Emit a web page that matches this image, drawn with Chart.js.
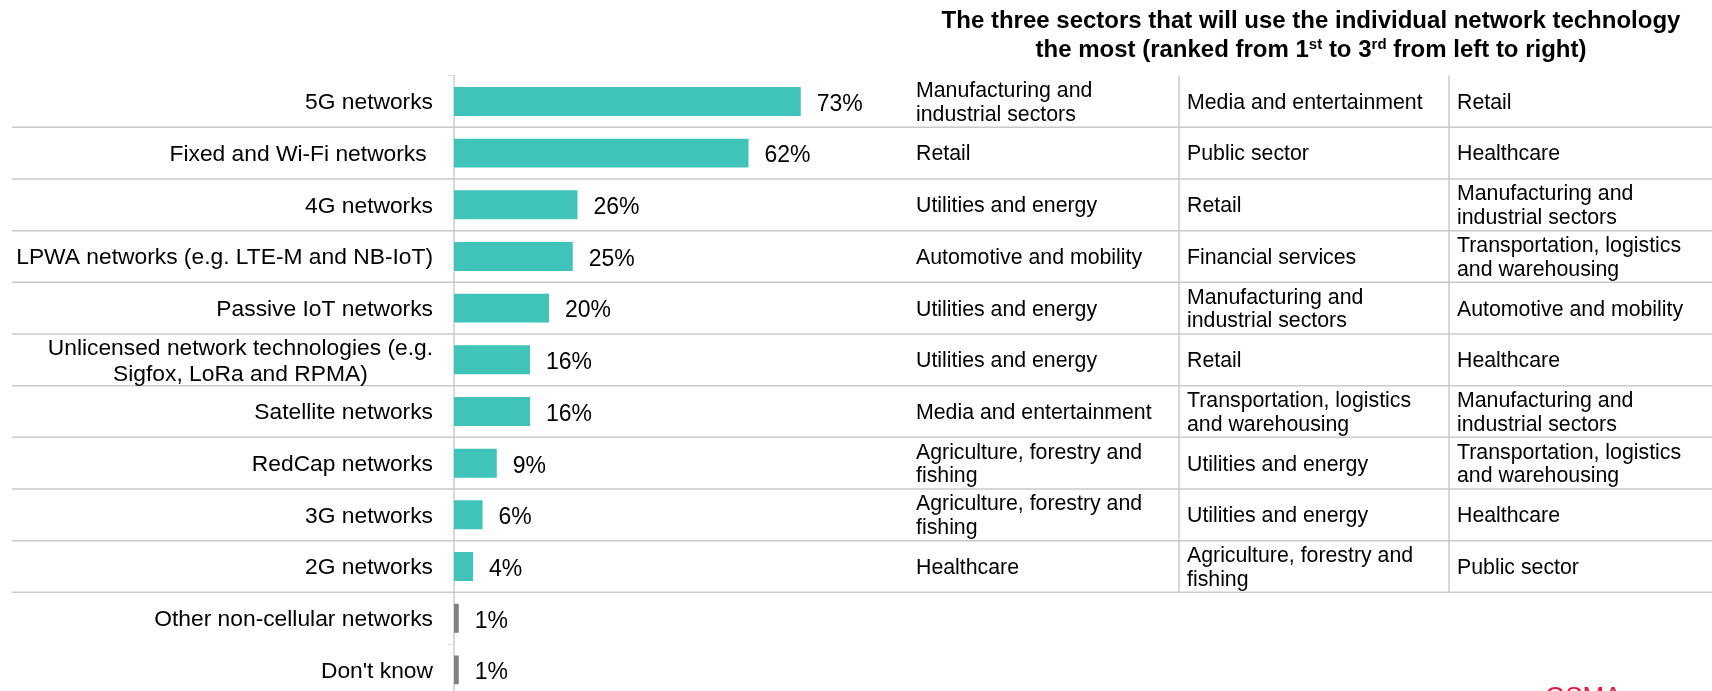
<!DOCTYPE html>
<html>
<head>
<meta charset="utf-8">
<title>Network technologies by sector</title>
<script src="https://cdn.jsdelivr.net/npm/chart.js@4.4.1/dist/chart.umd.min.js"></script>
<style>
  html, body { margin: 0; padding: 0; background: #fff; overflow: hidden; }
  canvas { display: block; }
</style>
</head>
<body>
<canvas id="myChart" width="1712" height="700"></canvas>
<script>
// network technologies, top to bottom
const categories = [
	'5G networks',
	'Fixed and Wi-Fi networks ',
	'4G networks',
	'LPWA networks (e.g. LTE-M and NB-IoT)',
	'Passive IoT networks',
	['Unlicensed network technologies (e.g.', 'Sigfox, LoRa and RPMA)'],
	'Satellite networks',
	'RedCap networks',
	'3G networks',
	'2G networks',
	'Other non-cellular networks',
	"Don't know"
];
// % of respondents
const shares = [73, 62, 26, 25, 20, 16, 16, 9, 6, 4, 1, 1];

// top three sectors per technology (only the first ten rows have them)
const firstSector = [
	'Manufacturing and\nindustrial sectors',
	'Retail',
	'Utilities and energy',
	'Automotive and mobility',
	'Utilities and energy',
	'Utilities and energy',
	'Media and entertainment',
	'Agriculture, forestry and\nfishing',
	'Agriculture, forestry and\nfishing',
	'Healthcare'
];
const secondSector = [
	'Media and entertainment',
	'Public sector',
	'Retail',
	'Financial services',
	'Manufacturing and\nindustrial sectors',
	'Retail',
	'Transportation, logistics\nand warehousing',
	'Utilities and energy',
	'Utilities and energy',
	'Agriculture, forestry and\nfishing'
];
const thirdSector = [
	'Retail',
	'Healthcare',
	'Manufacturing and\nindustrial sectors',
	'Transportation, logistics\nand warehousing',
	'Automotive and mobility',
	'Healthcare',
	'Manufacturing and\nindustrial sectors',
	'Transportation, logistics\nand warehousing',
	'Healthcare',
	'Public sector'
];

// title, second line has superscripts
const titleLine1 = [{ text: 'The three sectors that will use the individual network technology' }];
const titleLine2 = [
	{ text: 'the most (ranked from 1' },
	{ text: 'st', sup: true },
	{ text: ' to 3' },
	{ text: 'rd', sup: true },
	{ text: ' from left to right)' }
];

const FONT = "'Liberation Sans', Arial, Helvetica, sans-serif";
const TEAL = '#40c4b9';
const GREY = '#808080';
const LINE = '#cacaca';

//draws a line of text made of normal and superscript pieces, centred on cx
function drawRich(ctx, parts, cx, y) {
	const big = 'bold 24px ' + FONT;
	const small = 'bold 15px ' + FONT;
	let total = 0;
	parts.forEach(p => {
		ctx.font = p.sup ? small : big;
		p.w = ctx.measureText(p.text).width;
		total += p.w;
	});
	let x = cx - total / 2;
	ctx.textAlign = 'left';
	ctx.textBaseline = 'alphabetic';
	parts.forEach(p => {
		ctx.font = p.sup ? small : big;
		ctx.fillText(p.text, x, p.sup ? y - 8 : y);
		x += p.w;
	});
}

const extras = {
	id: 'extras',
	beforeDatasetsDraw(chart) {
		const ctx = chart.ctx;
		const yScale = chart.scales.y;
		const top = chart.chartArea.top;
		ctx.save();
		//row separators across the whole width
		ctx.strokeStyle = LINE;
		ctx.lineWidth = 1.5;
		let lastY = top;
		for (let i = 0; i < firstSector.length; i++) {
			const y = (yScale.getPixelForValue(i) + yScale.getPixelForValue(i + 1)) / 2;
			ctx.beginPath();
			ctx.moveTo(12, y);
			ctx.lineTo(chart.width, y);
			ctx.stroke();
			lastY = y;
		}
		//column dividers of the sector table
		[1179, 1449].forEach(x => {
			ctx.beginPath();
			ctx.moveTo(x, top);
			ctx.lineTo(x, lastY);
			ctx.stroke();
		});
		ctx.restore();
	},
	afterDatasetsDraw(chart) {
		const ctx = chart.ctx;
		const yScale = chart.scales.y;
		ctx.save();
		ctx.fillStyle = '#000';
		ctx.textBaseline = 'middle';
		ctx.textAlign = 'left';

		//category names, right aligned block, lines centred inside it
		ctx.font = '22.8px ' + FONT;
		categories.forEach((label, i) => {
			const lines = Array.isArray(label) ? label : [label];
			const w = Math.max(...lines.map(l => ctx.measureText(l).width));
			const cx = 433 - w / 2;
			const yc = yScale.getPixelForValue(i) + 1.5;
			lines.forEach((l, k) => {
				// measured by hand so a trailing space still pushes the text left
				const lw = ctx.measureText(l).width;
				ctx.fillText(l, cx - lw / 2, yc + (k - (lines.length - 1) / 2) * 26);
			});
		});

		//value labels at the end of each bar
		ctx.font = '23px ' + FONT;
		chart.getDatasetMeta(0).data.forEach((bar, i) => {
			ctx.fillText(shares[i] + '%', bar.x + 16, bar.y + 3);
		});

		//sector table
		ctx.font = '21.3px ' + FONT;
		const cols = [[916, firstSector], [1187, secondSector], [1457, thirdSector]];
		cols.forEach(([x, list]) => {
			list.forEach((txt, i) => {
				const lines = txt.split('\n');
				const yc = yScale.getPixelForValue(i) + 1.5;
				lines.forEach((l, k) => {
					ctx.fillText(l, x, yc + (k - (lines.length - 1) / 2) * 23.5);
				});
			});
		});

		//table heading
		drawRich(ctx, titleLine1, 1311, 28);
		drawRich(ctx, titleLine2, 1311, 57);

		//logo peeking in at the bottom
		ctx.fillStyle = '#e1193c';
		ctx.font = '26px ' + FONT;
		ctx.textAlign = 'left';
		ctx.textBaseline = 'alphabetic';
		ctx.fillText('GSMA', 1545, 705);
		ctx.restore();
	}
};

const ctx = document.getElementById('myChart');
const myChart = new Chart(ctx, {
	type: 'bar',
	data: {
		labels: categories,
		datasets: [{
			label: 'Share of respondents',
			data: shares,
			backgroundColor: shares.map((v, i) => i < firstSector.length ? TEAL : GREY),
			borderWidth: 0,
			categoryPercentage: 1,
			barPercentage: 0.56
		}]
	},
	options: {
		indexAxis: 'y',
		responsive: false,
		animation: false,
		layout: {
			padding: { left: 448, right: 783, top: 75.6, bottom: 4.3 }
		},
		plugins: {
			legend: { display: false },
			tooltip: { enabled: false }
		},
		scales: {
			x: {
				display: false,
				min: 0,
				max: 100
			},
			y: {
				ticks: { display: false },
				grid: {
					offset: true,
					drawOnChartArea: false,
					drawTicks: true,
					tickLength: 6,
					color: '#d9d9d9'
				},
				border: { display: true, color: '#d9d9d9', width: 2 }
			}
		}
	},
	plugins: [extras]
});
</script>
</body>
</html>
